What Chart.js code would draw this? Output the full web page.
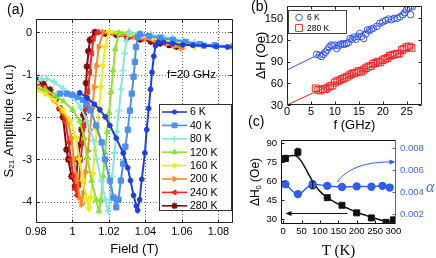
<!DOCTYPE html>
<html><head><meta charset="utf-8">
<script src="https://cdn.jsdelivr.net/npm/chart.js@4.4.1/dist/chart.umd.min.js"></script>
<style>
html,body{margin:0;padding:0;background:#fff;}
#wrap{position:relative;width:436px;height:258px;overflow:hidden;background:#fff;}
canvas{position:absolute;left:0;top:0;}
</style></head><body>
<div id="wrap">
<canvas id="ca" width="436" height="258"></canvas>
<canvas id="cb" width="436" height="258"></canvas>
<canvas id="cc" width="436" height="258"></canvas>
</div>
<script>
// ================= Panel (a) data =================
const aXTicks = [0.98, 1.00, 1.02, 1.04, 1.06, 1.08];
const aYTicks = [0, -1, -2, -3, -4];
const aLabels = ['6 K','40 K','80 K','120 K','160 K','200 K','240 K','280 K'];

const field6K = [1.004,1.008,1.012,1.015,1.018,1.0205,1.024,1.0278,1.0303,1.0318,1.0335,1.035,1.0357,1.0368,1.038,1.0397,1.0407,1.0418,1.0428,1.0436,1.0446,1.0455,1.047,1.05,1.055,1.0605,1.066,1.072,1.079,1.085,1.09];
const amp6K   = [-1.43,-1.55,-1.7,-1.83,-2.0,-2.2,-2.5,-2.85,-3.2,-3.5,-3.85,-4.1,-4.2,-3.95,-3.47,-2.85,-2.3,-1.8,-1.35,-0.95,-0.57,-0.32,-0.24,-0.24,-0.27,-0.3,-0.31,-0.32,-0.34,-0.35,-0.35];

const field40K = [0.993,0.997,1.0,1.003,1.0057,1.008,1.01,1.013,1.016,1.0178,1.0205,1.0225,1.024,1.0252,1.0265,1.0278,1.029,1.0303,1.0315,1.0325,1.0335,1.0342,1.0348,1.0358,1.037,1.042,1.048,1.055,1.062,1.07,1.078,1.088];
const amp40K   = [-1.45,-1.45,-1.48,-1.53,-1.6,-1.7,-1.85,-2.2,-2.6,-3.0,-3.5,-3.9,-4.13,-3.95,-3.5,-3.1,-2.7,-2.3,-1.85,-1.45,-1.05,-0.7,-0.35,-0.12,-0.05,-0.09,-0.13,-0.18,-0.23,-0.28,-0.31,-0.34];

const field80K = [0.98,0.983,0.986,0.99,0.995,1.0,1.0045,1.008,1.0115,1.0133,1.0158,1.018,1.0195,1.0207,1.0218,1.023,1.0242,1.0255,1.0266,1.0276,1.0286,1.0296,1.031,1.037,1.043,1.049,1.055,1.061,1.067,1.073,1.078];
const amp80K   = [-1.2,-1.1,-1.1,-1.18,-1.33,-1.52,-1.78,-2.1,-2.55,-3.0,-3.5,-3.95,-4.22,-3.95,-3.4,-2.85,-2.35,-1.85,-1.35,-0.9,-0.5,-0.2,-0.02,-0.03,-0.06,-0.1,-0.15,-0.2,-0.25,-0.3,-0.33];

const field120K = [0.98,0.985,0.99,0.995,1.0,1.004,1.0065,1.008,1.0105,1.013,1.0145,1.0157,1.0168,1.0179,1.019,1.0201,1.0212,1.0223,1.0234,1.0255,1.031,1.037,1.043,1.05,1.056,1.062,1.067,1.072];
const amp120K   = [-1.3,-1.35,-1.48,-1.63,-1.83,-2.1,-2.5,-2.95,-3.5,-3.95,-4.22,-3.95,-3.4,-2.85,-2.35,-1.9,-1.4,-0.9,-0.4,-0.02,0,-0.04,-0.09,-0.14,-0.2,-0.25,-0.3,-0.34];

const field160K = [0.98,0.985,0.99,0.995,0.999,1.002,1.0037,1.0058,1.0078,1.009,1.0101,1.0112,1.0123,1.0134,1.0145,1.0156,1.0167,1.0178,1.02,1.026,1.032,1.038,1.044,1.05,1.056,1.062,1.067];
const amp160K   = [-1.38,-1.45,-1.6,-1.85,-2.1,-2.5,-3.0,-3.5,-3.95,-4.16,-3.9,-3.35,-2.8,-2.3,-1.8,-1.3,-0.8,-0.35,0,-0.01,-0.04,-0.09,-0.14,-0.19,-0.25,-0.3,-0.35];

const field200K = [0.98,0.985,0.99,0.994,0.9975,0.9995,1.0008,1.0025,1.004,1.005,1.006,1.0072,1.0084,1.0096,1.0108,1.012,1.0132,1.0144,1.0168,1.022,1.028,1.034,1.04,1.046,1.052,1.056,1.06];
const amp200K   = [-1.3,-1.4,-1.6,-1.85,-2.1,-2.5,-3.0,-3.5,-3.9,-4.06,-3.8,-3.3,-2.8,-2.3,-1.8,-1.3,-0.8,-0.35,0,-0.02,-0.05,-0.1,-0.15,-0.21,-0.27,-0.33,-0.38];

const field240K = [0.98,0.985,0.99,0.993,0.996,0.998,0.999,1.0005,1.0015,1.0025,1.0035,1.0045,1.0055,1.0065,1.0075,1.0085,1.0095,1.0105,1.0115,1.0138,1.019,1.025,1.031,1.038,1.044,1.05,1.055,1.06];
const amp240K   = [-1.2,-1.3,-1.55,-1.8,-2.1,-2.6,-3.0,-3.4,-3.7,-3.85,-3.6,-3.0,-2.6,-2.2,-1.8,-1.4,-0.95,-0.5,-0.15,0,-0.02,-0.05,-0.1,-0.15,-0.2,-0.25,-0.3,-0.33];

const field280K = [0.975,0.98,0.984,0.9877,0.9905,0.993,0.9948,0.9968,0.9977,0.9995,1.0015,1.003,1.004,1.005,1.006,1.0068,1.0075,1.008,1.0088,1.0096,1.0123,1.018,1.024,1.03,1.037,1.043,1.048,1.053,1.057];
const amp280K   = [-1.0,-1.12,-1.22,-1.36,-1.6,-1.8,-2.0,-2.77,-3.0,-3.4,-3.63,-3.0,-2.65,-2.3,-1.95,-1.6,-1.2,-0.81,-0.45,-0.18,0,-0.03,-0.06,-0.11,-0.17,-0.22,-0.26,-0.3,-0.34];

// ================= Panel (b) data =================
const bXTicks = [0, 5, 10, 15, 20, 25];
const bYTicks = [30, 60, 90, 120, 150];
const freq6K = [6.2,6.8,7.2,7.6,8.0,8.4,8.8,9.2,9.6,10.0,10.4,10.8,11.2,11.6,12.0,12.4,12.8,13.2,13.6,14.0,14.4,14.8,15.2,15.6,16.0,16.4,16.8,17.2,17.6,18.0,18.8,19.4,20.0,20.6,21.2,21.8,22.4,23.0,23.6,24.2,24.6,25.0,25.4,25.8,26.2];
const dH6K   = [100,99,97,100,103,106,110,113,112,113,108,112,114,115,114,115,116,122,121,124,121,125,129,125,122,128,134,133,135,136,139,143,145,147,149,148,150,150,152,155,158,162,164,155,166];
const freq280K = [6.0,6.5,7.0,7.5,8.0,8.5,9.0,9.5,10.0,10.5,11.0,11.5,12.0,12.5,13.0,13.5,14.0,14.5,15.0,15.5,16.0,16.5,17.0,17.5,18.0,18.5,19.0,19.5,20.0,20.5,21.0,21.5,22.0,22.5,23.0,23.5,24.0,24.5,25.0,25.5,26.0];
const dH280K   = [53,51,50,52,52,54,56,57,61,63,64,66,67,69,71,73,74,75,77,76,79,81,83,84,87,88,90,89,92,94,95,98,99,100,101,101,106,108,110,111,109];
const fitF = [0, 26.5];
const fit6K = [78.5, 164.6];
const fit280K = [30, 110.8];

// ================= Panel (c) data =================
const cXTicks = [0, 50, 100, 150, 200, 250, 300];
const cYTicks = [30, 45, 60, 75, 90];
const cY2Ticks = [0.002, 0.004, 0.006, 0.008];
const cTemp = [6, 40, 80, 120, 160, 200, 240, 280, 300];
const cDH0 = [78, 83, 57, 47, 41, 35, 31, 27.5, 29.5];
const cDH0Err = [2.5, 3, 3, 0, 0, 0, 0, 0, 0];
const cAlphaT = [6, 40, 80, 120, 160, 200, 240, 270, 290];
const cAlpha = [0.0047, 0.0038, 0.0047, 0.00455, 0.00445, 0.0045, 0.00447, 0.00455, 0.0044];
const cFitT = [0,10,20,30,40,50,60,70,80,90,100,120,140,160,180,200,220,240,260,280,290];
const cFitH = [78.5,79.5,80.2,80.3,79,75.5,70.5,65,60,55.5,52,47,43.5,40.5,38,35.5,33.5,31.5,29.7,28.3,28];

// ================= helpers =================
const SANS = '"Liberation Sans", Arial, Helvetica, sans-serif';
const SERIF = '"Liberation Serif", "Times New Roman", serif';
const pts = (xs, ys) => xs.map((x, i) => ({x: x, y: ys[i]}));
const fmt = v => String(Math.round(v * 1000) / 1000);

function textRuns(ctx, parts, x, y, align, rotate) {
  ctx.save();
  ctx.translate(x, y);
  if (rotate) ctx.rotate(-Math.PI / 2);
  let total = 0;
  parts.forEach(p => { ctx.font = p.font; p.w = ctx.measureText(p.text).width; total += p.w; });
  let cx = align === 'center' ? -total / 2 : 0;
  ctx.textBaseline = 'middle'; ctx.textAlign = 'left';
  parts.forEach(p => { ctx.font = p.font; ctx.fillStyle = p.color || '#000'; ctx.fillText(p.text, cx, p.dy || 0); cx += p.w; });
  ctx.restore();
}
// tick labels drawn at scale positions
function xLabels(chart, scale, list, y, font, color, f) {
  const ctx = chart.ctx; ctx.save();
  ctx.font = font; ctx.fillStyle = color; ctx.textAlign = 'center'; ctx.textBaseline = 'middle';
  list.forEach(v => ctx.fillText((f || fmt)(v), scale.getPixelForValue(v), y));
  ctx.restore();
}
function yLabels(chart, scale, list, x, align, font, color, f) {
  const ctx = chart.ctx; ctx.save();
  ctx.font = font; ctx.fillStyle = color; ctx.textAlign = align; ctx.textBaseline = 'middle';
  list.forEach(v => ctx.fillText((f || fmt)(v), x, scale.getPixelForValue(v) + 0.5));
  ctx.restore();
}
function frameAndTicks(chart, xs, ys, xTicks, yTicks, opts) {
  const ctx = chart.ctx, a = chart.chartArea;
  const L = Math.round(a.left) + 0.5, R = Math.round(a.right) - 0.5, T = Math.round(a.top) + 0.5, B = Math.round(a.bottom) - 0.5;
  ctx.save();
  ctx.lineWidth = 1;
  ctx.strokeStyle = opts.color || '#111';
  ctx.beginPath();
  xTicks.forEach(v => { const px = Math.round(xs.getPixelForValue(v)) + 0.5;
    ctx.moveTo(px, B); ctx.lineTo(px, B - 3);
    if (opts.topTicks) { ctx.moveTo(px, T); ctx.lineTo(px, T + 3); } });
  yTicks.forEach(v => { const py = Math.round(ys.getPixelForValue(v)) + 0.5;
    ctx.moveTo(L, py); ctx.lineTo(L + 3, py);
    if (opts.rightTicks) { ctx.moveTo(R, py); ctx.lineTo(R - 3, py); } });
  ctx.stroke();
  ctx.beginPath();
  ctx.moveTo(L, T); ctx.lineTo(L, B); ctx.lineTo(R, B);
  if (!opts.noRight) { ctx.moveTo(R, B); ctx.lineTo(R, T); }
  ctx.moveTo(L, T); ctx.lineTo(R, T);
  ctx.stroke();
  ctx.restore();
}
function fixedTicks(list) { return s => { s.ticks = list.map(v => ({value: v})); }; }
function axis(min, max, list, w, h, extra) {
  const o = {
    type: 'linear', min: min, max: max,
    afterBuildTicks: fixedTicks(list),
    grid: {display: false, drawTicks: false, tickLength: 0},
    border: {display: false},
    ticks: {display: false}
  };
  if (w) o.afterFit = s => { s.width = w; };
  if (h) o.afterFit = s => { s.height = h; };
  return Object.assign(o, extra || {});
}
const H = Chart.helpers;

// ================= Chart (a) =================
const aColors = ['#1f3fe6','#4b8ff5','#82e8e2','#8de334','#efec12','#ff8a22','#ff2020','#7d0c0c'];
const aStyles = [
  {pointStyle:'circle', radius:2.4, rotation:0},
  {pointStyle:'rect', radius:3.7, rotation:0},
  {pointStyle:'cross', radius:3.4, rotation:0},
  {pointStyle:'triangle', radius:3.3, rotation:0},
  {pointStyle:'triangle', radius:3.3, rotation:180},
  {pointStyle:'triangle', radius:3.3, rotation:90},
  {pointStyle:'triangle', radius:3.3, rotation:-90},
  {pointStyle:'star', radius:3.5, rotation:0}
];
const aFields = [field6K, field40K, field80K, field120K, field160K, field200K, field240K, field280K];
const aAmps = [amp6K, amp40K, amp80K, amp120K, amp160K, amp200K, amp240K, amp280K];
const thinStyle = s => s === 'cross' || s === 'star';
const aDatasets = aLabels.map((lab, i) => ({
  label: lab, data: pts(aFields[i], aAmps[i]), showLine: true,
  borderColor: aColors[i], backgroundColor: aColors[i], borderWidth: 2,
  pointStyle: aStyles[i].pointStyle, pointRadius: aStyles[i].radius, pointRotation: aStyles[i].rotation,
  pointBorderWidth: thinStyle(aStyles[i].pointStyle) ? 1.8 : 1,
  pointBackgroundColor: aColors[i], pointBorderColor: aColors[i], tension: 0
}));

const plugA = {
  id: 'plugA',
  beforeDatasetsDraw(chart) {
    const ctx = chart.ctx, a = chart.chartArea, xs = chart.scales.x, ys = chart.scales.y;
    ctx.save();
    ctx.strokeStyle = '#666'; ctx.lineWidth = 1; ctx.setLineDash([1, 2]);
    ctx.beginPath();
    aXTicks.forEach(v => { const px = Math.round(xs.getPixelForValue(v)) + 0.5; ctx.moveTo(px, a.top); ctx.lineTo(px, a.bottom); });
    aYTicks.forEach(v => { const py = Math.round(ys.getPixelForValue(v)) + 0.5; ctx.moveTo(a.left, py); ctx.lineTo(a.right, py); });
    ctx.stroke();
    ctx.restore();
  },
  afterDatasetsDraw(chart) {
    frameAndTicks(chart, chart.scales.x, chart.scales.y, aXTicks, aYTicks, {topTicks: true, rightTicks: true, color: '#222'});
  },
  afterDraw(chart) {
    const ctx = chart.ctx, a = chart.chartArea;
    xLabels(chart, chart.scales.x, aXTicks, a.bottom + 9, '11px ' + SANS, '#000');
    yLabels(chart, chart.scales.y, aYTicks, a.left - 4, 'right', '11px ' + SANS, '#000');
    textRuns(ctx, [{text: '(a)', font: '14px ' + SANS}], 7, 10, 'left', false);
    textRuns(ctx, [{text: 'S', font: '13px ' + SANS}, {text: '21', font: '8px ' + SANS, dy: 3}, {text: ' Amplitude (a.u.)', font: '13px ' + SANS}], 9, (a.top + a.bottom) / 2, 'center', true);
    textRuns(ctx, [{text: 'Field (T)', font: '13px ' + SANS}], (a.left + a.right) / 2, 249, 'center', false);
    textRuns(ctx, [{text: 'f=20 GHz', font: '11.5px ' + SANS}], 167, 75, 'left', false);
    // legend
    ctx.save();
    ctx.fillStyle = '#fff'; ctx.strokeStyle = '#333'; ctx.lineWidth = 1;
    ctx.fillRect(159.5, 104.5, 72, 106); ctx.strokeRect(159.5, 104.5, 72, 106);
    aLabels.forEach((lab, i) => {
      const y = 112 + i * 13.4;
      ctx.strokeStyle = aColors[i]; ctx.fillStyle = aColors[i]; ctx.lineWidth = 1.6;
      ctx.beginPath(); ctx.moveTo(162, y); ctx.lineTo(187, y); ctx.stroke();
      ctx.lineWidth = thinStyle(aStyles[i].pointStyle) ? 1.6 : 1;
      H.drawPoint(ctx, {pointStyle: aStyles[i].pointStyle, radius: aStyles[i].radius - 0.3, rotation: aStyles[i].rotation, borderWidth: ctx.lineWidth}, 174.5, y);
      ctx.fillStyle = '#000'; ctx.font = '10.5px ' + SANS; ctx.textBaseline = 'middle'; ctx.textAlign = 'left';
      ctx.fillText(lab, 190, y + 0.5);
    });
    ctx.restore();
  }
};

new Chart(document.getElementById('ca'), {
  type: 'scatter',
  data: {datasets: aDatasets},
  options: {
    responsive: false, animation: false, devicePixelRatio: 1,
    layout: {padding: {left: 6, right: 203, top: 19, bottom: 15}},
    plugins: {legend: {display: false}, tooltip: {enabled: false}},
    scales: {
      x: axis(0.98, 1.088, aXTicks, 0, 20),
      y: axis(-4.5, 0.31, aYTicks, 30, 0)
    }
  },
  plugins: [plugA]
});

// ================= Chart (b) =================
const bBlue = '#3556f0', bRed = '#ff2222';
const plugB = {
  id: 'plugB',
  afterDatasetsDraw(chart) {
    frameAndTicks(chart, chart.scales.x, chart.scales.y, bXTicks, bYTicks, {topTicks: true, rightTicks: true, color: '#222'});
  },
  afterDraw(chart) {
    const ctx = chart.ctx, a = chart.chartArea;
    xLabels(chart, chart.scales.x, bXTicks, a.bottom + 7, '11px ' + SANS, '#000');
    yLabels(chart, chart.scales.y, bYTicks, a.left - 4, 'right', '11px ' + SANS, '#000');
    textRuns(ctx, [{text: '(b)', font: '14px ' + SANS}], 251, 7, 'left', false);
    textRuns(ctx, [{text: '\u0394H (Oe)', font: '13px ' + SANS}], 261, (a.top + a.bottom) / 2, 'center', true);
    textRuns(ctx, [{text: 'f (GHz)', font: '13px ' + SANS}], (a.left + a.right) / 2, 125, 'center', false);
    ctx.save();
    ctx.strokeStyle = '#444'; ctx.lineWidth = 1; ctx.fillStyle = '#fff';
    ctx.fillRect(288.5, 10.5, 58, 23); ctx.strokeRect(288.5, 10.5, 58, 23);
    ctx.strokeStyle = bBlue; ctx.lineWidth = 1;
    H.drawPoint(ctx, {pointStyle: 'circle', radius: 3.3, rotation: 0, borderWidth: 1}, 299, 17.5);
    ctx.strokeStyle = bRed;
    H.drawPoint(ctx, {pointStyle: 'rect', radius: 4.8, rotation: 0, borderWidth: 1}, 299, 28);
    ctx.fillStyle = '#000'; ctx.font = '8.5px ' + SANS; ctx.textBaseline = 'middle'; ctx.textAlign = 'left';
    ctx.fillText('6 K', 307, 18); ctx.fillText('280 K', 307, 28.5);
    ctx.restore();
  }
};
new Chart(document.getElementById('cb'), {
  type: 'scatter',
  data: {datasets: [
    {label: '6 K', data: pts(freq6K, dH6K), showLine: false, pointStyle: 'circle', pointRadius: 3.3, pointBorderWidth: 1, pointBorderColor: bBlue, pointBackgroundColor: 'rgba(0,0,0,0)', borderColor: bBlue},
    {label: '280 K', data: pts(freq280K, dH280K), showLine: false, pointStyle: 'rect', pointRadius: 4.8, pointBorderWidth: 1, pointBorderColor: bRed, pointBackgroundColor: 'rgba(0,0,0,0)', borderColor: bRed},
    {label: 'fit6', data: pts(fitF, fit6K), showLine: true, pointRadius: 0, borderColor: bBlue, borderWidth: 1},
    {label: 'fit280', data: pts(fitF, fit280K), showLine: true, pointRadius: 0, borderColor: bRed, borderWidth: 1}
  ]},
  options: {
    responsive: false, animation: false, devicePixelRatio: 1,
    layout: {padding: {left: 257, right: 14, top: 6, bottom: 139}},
    plugins: {legend: {display: false}, tooltip: {enabled: false}},
    scales: {
      x: axis(0, 28.2, bXTicks, 0, 14),
      y: axis(30, 167, bYTicks, 30, 0)
    }
  },
  plugins: [plugB]
});

// ================= Chart (c) =================
const cBlue = '#2f5ef2', cAxisBlue = '#3a66ff';
const plugC = {
  id: 'plugC',
  afterDatasetsDraw(chart) {
    const ctx = chart.ctx, xs = chart.scales.x, ys = chart.scales.y, y2 = chart.scales.y2, a = chart.chartArea;
    frameAndTicks(chart, xs, ys, cXTicks, cYTicks, {topTicks: false, rightTicks: false, noRight: true, color: '#111'});
    ctx.save();
    const R = Math.round(a.right) - 0.5;
    ctx.strokeStyle = cAxisBlue; ctx.lineWidth = 1;
    ctx.beginPath(); ctx.moveTo(R, a.top); ctx.lineTo(R, a.bottom);
    cY2Ticks.forEach(v => { const py = Math.round(y2.getPixelForValue(v)) + 0.5; ctx.moveTo(R, py); ctx.lineTo(R - 3, py); });
    ctx.stroke();
    ctx.strokeStyle = '#111'; ctx.lineWidth = 1;
    ctx.beginPath();
    cTemp.forEach((t, i) => {
      const e = cDH0Err[i]; if (!e) return;
      const px = xs.getPixelForValue(t), p1 = ys.getPixelForValue(cDH0[i] + e), p2 = ys.getPixelForValue(cDH0[i] - e);
      ctx.moveTo(px, p1); ctx.lineTo(px, p2);
      ctx.moveTo(px - 2, p1); ctx.lineTo(px + 2, p1);
      ctx.moveTo(px - 2, p2); ctx.lineTo(px + 2, p2);
    });
    ctx.stroke();
    const ay = Math.round(ys.getPixelForValue(34.7)) + 0.5, ax1 = xs.getPixelForValue(175), ax2 = xs.getPixelForValue(6);
    ctx.beginPath(); ctx.moveTo(ax1, ay); ctx.lineTo(ax2 + 4, ay); ctx.stroke();
    ctx.fillStyle = '#111';
    ctx.beginPath(); ctx.moveTo(ax2, ay); ctx.lineTo(ax2 + 6, ay - 2.5); ctx.lineTo(ax2 + 6, ay + 2.5); ctx.closePath(); ctx.fill();
    const sx = xs.getPixelForValue(147), sy = y2.getPixelForValue(0.0049);
    const qx = xs.getPixelForValue(185), qy = y2.getPixelForValue(0.0067);
    const ex = xs.getPixelForValue(303), ey = y2.getPixelForValue(0.00672);
    ctx.strokeStyle = cBlue; ctx.lineWidth = 1;
    ctx.beginPath(); ctx.moveTo(sx, sy); ctx.quadraticCurveTo(qx, qy, ex - 4, ey); ctx.stroke();
    ctx.fillStyle = cBlue;
    ctx.beginPath(); ctx.moveTo(ex + 1, ey); ctx.lineTo(ex - 5, ey - 2.5); ctx.lineTo(ex - 5, ey + 2.5); ctx.closePath(); ctx.fill();
    ctx.restore();
  },
  afterDraw(chart) {
    const ctx = chart.ctx, a = chart.chartArea;
    xLabels(chart, chart.scales.x, cXTicks, a.bottom + 7.5, '9.5px ' + SANS, '#000');
    yLabels(chart, chart.scales.y, cYTicks, a.left - 4, 'right', '9.5px ' + SANS, '#000');
    yLabels(chart, chart.scales.y2, cY2Ticks, a.right + 4, 'left', '9.5px ' + SANS, cAxisBlue, v => v.toFixed(3));
    textRuns(ctx, [{text: '(c)', font: '14px ' + SANS}], 248, 122, 'left', false);
    textRuns(ctx, [{text: '\u0394H', font: '12px ' + SANS}, {text: '0', font: '7.5px ' + SANS, dy: 3}, {text: ' (Oe)', font: '12px ' + SANS}], 256, (a.top + a.bottom) / 2, 'center', true);
    textRuns(ctx, [{text: 'T (K)', font: '15px ' + SERIF}], (a.left + a.right) / 2, 251, 'center', false);
    textRuns(ctx, [{text: '\u03B1', font: 'italic 16px ' + SERIF, color: cAxisBlue}], 426, 188, 'left', false);
  }
};
new Chart(document.getElementById('cc'), {
  type: 'scatter',
  data: {datasets: [
    {label: 'alpha', data: pts(cAlphaT, cAlpha), yAxisID: 'y2', showLine: true, borderColor: cBlue, borderWidth: 1.5, pointStyle: 'circle', pointRadius: 3.4, pointBackgroundColor: cBlue, pointBorderColor: cBlue, cubicInterpolationMode: 'monotone'},
    {label: 'dH0', data: pts(cTemp, cDH0), yAxisID: 'y', showLine: false, pointStyle: 'rect', pointRadius: 4.2, pointBackgroundColor: '#111', pointBorderColor: '#111', borderColor: '#111'},
    {label: 'fit', data: pts(cFitT, cFitH), yAxisID: 'y', showLine: true, pointRadius: 0, borderColor: '#111', borderWidth: 1.5, cubicInterpolationMode: 'monotone'}
  ]},
  options: {
    responsive: false, animation: false, devicePixelRatio: 1,
    layout: {padding: {left: 251, right: 4, top: 140, bottom: 20}},
    plugins: {legend: {display: false}, tooltip: {enabled: false}},
    scales: {
      x: axis(-6, 307, cXTicks, 0, 14),
      y: axis(26.2, 92.6, cYTicks, 30, 0, {position: 'left'}),
      y2: axis(0.0011, 0.0087, cY2Ticks, 36, 0, {position: 'right'})
    }
  },
  plugins: [plugC]
});
</script>
</body></html>
